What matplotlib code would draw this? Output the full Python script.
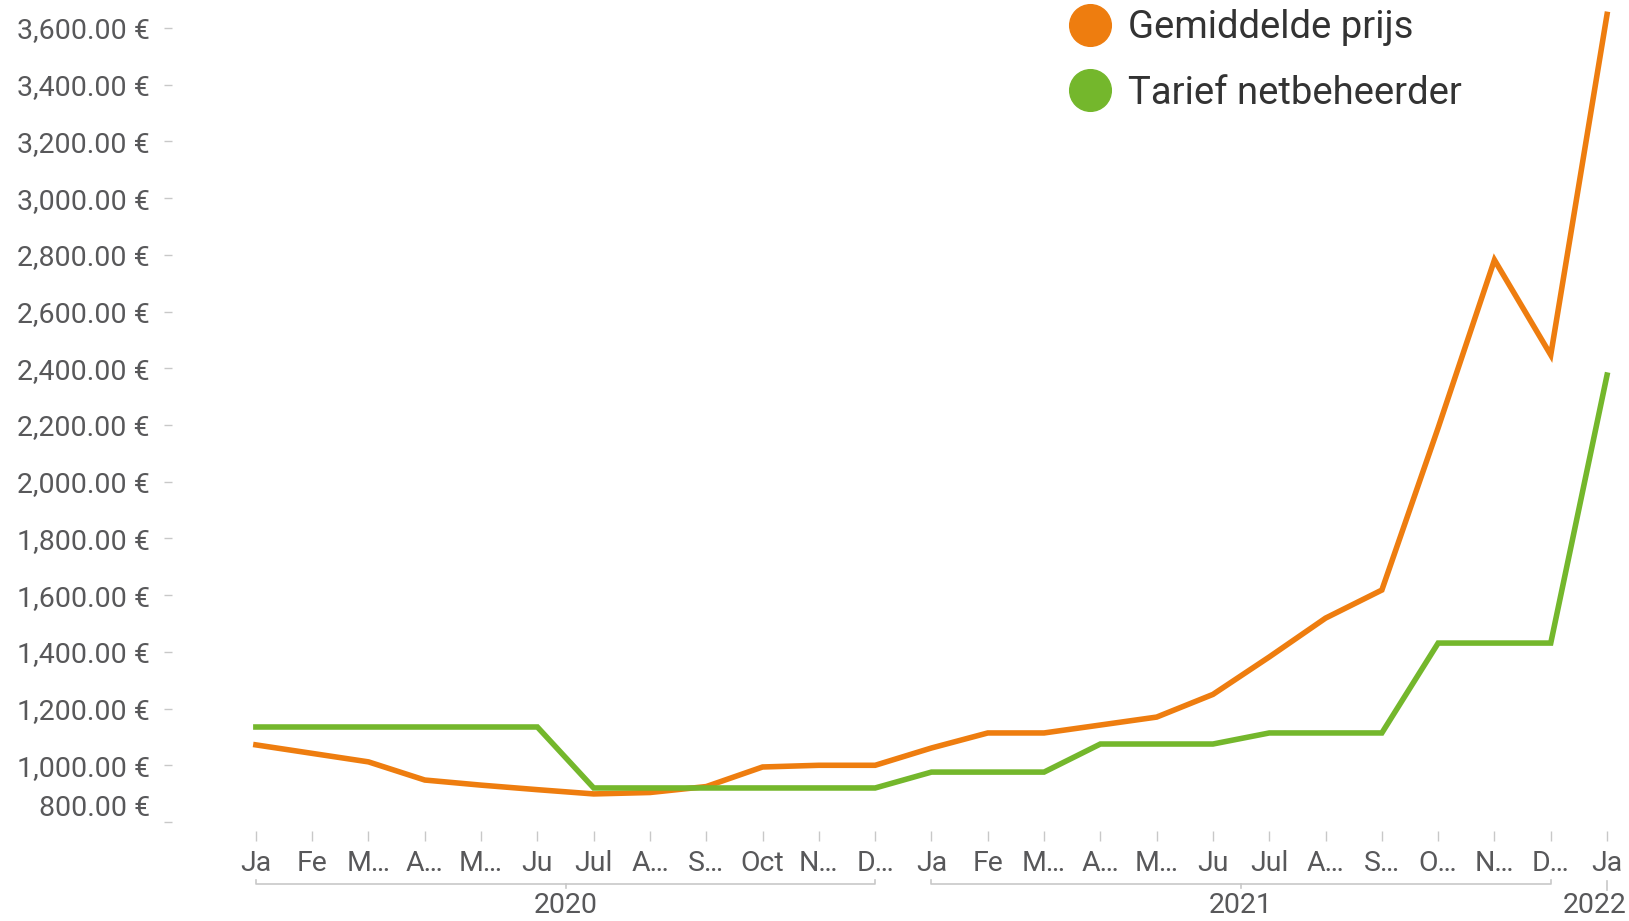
#!/usr/bin/env python3

import matplotlib

matplotlib.use("Agg")
import matplotlib.pyplot as plt
from matplotlib.lines import Line2D
from matplotlib.ticker import FuncFormatter

plt.rcParams["font.family"] = ["Roboto", "DejaVu Sans"]

months = ["Ja", "Fe", "M…", "A…", "M…", "Ju", "Jul", "A…", "S…", "Oct", "N…", "D…",
          "Ja", "Fe", "M…", "A…", "M…", "Ju", "Jul", "A…", "S…", "O…", "N…", "D…",
          "Ja"]
years = ["2020", "2021", "2022"]
year_start = [0, 12, 24]
year_end = [11, 23, 24]

gemiddelde_prijs = [1072, 1042, 1012, 948, 930, 914, 899, 904, 925, 994, 1000, 1000,
                    1061, 1114, 1114, 1142, 1170, 1250, 1382, 1519, 1618, 2190, 2782, 2447,
                    3648]
tarief_netbeheerder = [1135, 1135, 1135, 1135, 1135, 1135, 920, 920, 920, 920, 920, 920,
                       976, 976, 976, 1075, 1075, 1075, 1114, 1114, 1114, 1431, 1431, 1431,
                       2376]

y_ticks = list(range(800, 3601, 200))

ORANGE = "#EE7D0F"
GREEN = "#74B72C"
TEXT = "#58585A"
GRID = "#C8C8C8"
FS = 20.5


def euro(v, pos):
    return f"{v:,.2f} €"


fig = plt.figure(figsize=(16.29, 9.21), dpi=100)
ax = fig.add_axes([172 / 1629, 99 / 921, 1448 / 1629, 822 / 921])

x = list(range(len(months)))
ax.plot(x, gemiddelde_prijs, color=ORANGE, linewidth=4, solid_joinstyle="miter")
ax.plot(x, tarief_netbeheerder, color=GREEN, linewidth=4, solid_joinstyle="miter")

ax.set_xlim(-1.49, 24.23)
ax.set_ylim(800, 3698.7)

for s in ["top", "right", "left", "bottom"]:
    ax.spines[s].set_visible(False)
ax.spines["bottom"].set_position(("outward", 6.5))

ax.set_yticks(y_ticks)
ax.yaxis.set_major_formatter(FuncFormatter(euro))
ax.tick_params(axis="y", length=6, width=1, color=GRID, pad=10,
               labelsize=FS, labelcolor=TEXT)
ax.get_yticklabels()[0].set_va("bottom")

ax.set_xticks(x)
ax.set_xticklabels(months)
ax.tick_params(axis="x", length=7, width=1, color=GRID, pad=7,
               labelsize=FS, labelcolor=TEXT)

# year brackets under the month labels
tr = ax.get_xaxis_transform()
y_line = -62 / 822
for name, a, b in zip(years, year_start, year_end):
    if b > a:
        ax.plot([a, a, b, b], [y_line + 4 / 822, y_line, y_line, y_line + 4 / 822],
                color=GRID, lw=1.2, transform=tr, clip_on=False)
        mid = (a + b) / 2
        ax.plot([mid, mid], [y_line, y_line - 4 / 822], color=GRID, lw=1.2,
                transform=tr, clip_on=False)
        ax.text(mid, -97 / 822, name, transform=tr, ha="center", va="bottom",
                fontsize=FS, color=TEXT)
    else:
        ax.plot([a, a], [y_line + 3 / 822, y_line - 6 / 822], color=GRID, lw=1.2,
                transform=tr, clip_on=False)
        # last year label sits against the right edge of the picture
        fig.text(1626 / 1629, 2 / 921, name, ha="right", va="bottom",
                 fontsize=FS, color=TEXT)

handles = [
    Line2D([], [], marker="o", linestyle="none", markersize=30,
           markerfacecolor=ORANGE, markeredgecolor=ORANGE, label="Gemiddelde prijs"),
    Line2D([], [], marker="o", linestyle="none", markersize=30,
           markerfacecolor=GREEN, markeredgecolor=GREEN, label="Tarief netbeheerder"),
]
fig.legend(handles=handles, loc="upper left", bbox_to_anchor=(1063 / 1629, 1 - 9 / 921),
           frameon=False, fontsize=27.5, labelcolor="#333333", borderpad=0,
           borderaxespad=0, handletextpad=0.3, labelspacing=0.75, handlelength=1.4)

plt.savefig("out.png", dpi=100)
